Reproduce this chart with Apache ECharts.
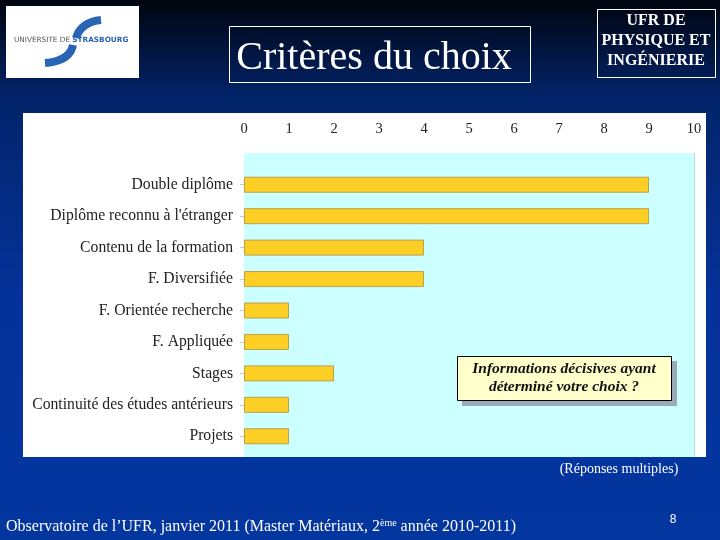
<!DOCTYPE html>
<html><head><meta charset="utf-8">
<script src="https://cdn.jsdelivr.net/npm/echarts@6/dist/echarts.min.js"></script>
<style>html,body{margin:0;padding:0;}#c{width:720px;height:540px;}</style>
</head><body><div id="c"></div>
<script>
const categories = ["Double diplôme","Diplôme reconnu à l'étranger","Contenu de la formation","F. Diversifiée","F. Orientée recherche","F. Appliquée","Stages","Continuité des études antérieurs","Projets"];
const values = [9,9,4,4,1,1,2,1,1];
const xTicks = [0,1,2,3,4,5,6,7,8,9,10];

const chart = echarts.init(document.getElementById('c'));
const serif = '"Liberation Serif","DejaVu Serif",serif';
chart.setOption({
  animation:false,
  backgroundColor:{type:'linear',x:0,y:0,x2:0,y2:1,colorStops:[
    {offset:0,color:'#00040f'},{offset:0.18,color:'#03246a'},{offset:0.55,color:'#05329a'},{offset:1,color:'#0436a0'}]},
  grid:[
    {left:244,right:26,top:153,bottom:83,show:true,backgroundColor:'#ccffff',borderWidth:0,z:1},
    {left:244,right:26,top:169,bottom:88,z:2}
  ],
  xAxis:[
    {gridIndex:0,type:'value',position:'top',min:0,max:10,interval:1,
     axisLabel:{fontFamily:serif,fontSize:14.5,color:'#222',margin:16,formatter:v=>String(xTicks[v])},
     axisLine:{show:false},axisTick:{show:false},
     splitLine:{show:true,lineStyle:{color:'#b5dede',width:1}}},
    {gridIndex:1,type:'value',min:0,max:10,show:false}
  ],
  yAxis:[
    {gridIndex:0,type:'value',show:false},
    {gridIndex:1,type:'category',inverse:true,data:categories,
     axisLabel:{fontFamily:serif,fontSize:15.7,color:'#222',margin:11},
     axisLine:{show:false},
     axisTick:{show:true,alignWithLabel:true,length:4,lineStyle:{color:'#c8c8c8'}}}
  ],
  series:[{type:'bar',xAxisIndex:1,yAxisIndex:1,data:values,barWidth:16,z:3,
    itemStyle:{color:'#fdcf24',borderColor:'#b9a24a',borderWidth:1}}],
  graphic:[
    {type:'rect',z:-10,shape:{x:23,y:113,width:683,height:344},style:{fill:'#ffffff'}},
    {type:'rect',z:-10,shape:{x:6,y:6,width:133,height:72},style:{fill:'#ffffff'}},
    {type:'bezierCurve',z:-9,shape:{x1:101,y1:20,cpx1:81,cpy1:22,x2:76,y2:38},style:{stroke:'#2a64b4',lineWidth:8,fill:null}},
    {type:'bezierCurve',z:-9,shape:{x1:73,y1:45,cpx1:70,cpy1:61,x2:45,y2:63},style:{stroke:'#2a64b4',lineWidth:8,fill:null}},
    {type:'text',z:-8,left:14,top:37,style:{text:'{g|UNIVERSITE DE }{b|STRASBOURG}',rich:{g:{fontFamily:'"DejaVu Sans",sans-serif',fontSize:7.3,fill:'#555'},b:{fontFamily:'"DejaVu Sans",sans-serif',fontSize:7.3,fill:'#2a64b4',fontWeight:'bold'}}}},
    {type:'rect',z:-10,shape:{x:229.5,y:26.5,width:301,height:56},style:{fill:null,stroke:'#ffffff',lineWidth:1}},
    {type:'text',z:-8,x:374,y:58,style:{text:'Critères du choix',fontFamily:serif,fontSize:40,fill:'#ffffff',textAlign:'center',textVerticalAlign:'middle'}},
    {type:'rect',z:-10,shape:{x:597.5,y:9.5,width:118,height:68},style:{fill:null,stroke:'#ffffff',lineWidth:1}},
    {type:'text',z:-8,x:656,y:41,style:{text:'UFR DE\nPHYSIQUE ET\nINGÉNIERIE',fontFamily:serif,fontSize:16,fontWeight:'bold',lineHeight:20,fill:'#ffffff',textAlign:'center',textVerticalAlign:'middle'}},
    {type:'rect',z:50,shape:{x:462,y:361,width:215,height:45},style:{fill:'#9aaab8'}},
    {type:'rect',z:51,shape:{x:457.5,y:356.5,width:214,height:44},style:{fill:'#ffffcc',stroke:'#000000',lineWidth:1}},
    {type:'text',z:52,x:564,y:378,style:{text:'Informations décisives ayant\ndéterminé votre choix ?',fontFamily:serif,fontSize:15.5,fontStyle:'italic',fontWeight:'bold',lineHeight:18,fill:'#111',textAlign:'center',textVerticalAlign:'middle'}},
    {type:'text',z:5,x:619,y:469,style:{text:'(Réponses multiples)',fontFamily:serif,fontSize:14,fill:'#ffffff',textAlign:'center',textVerticalAlign:'middle'}},
    {type:'text',z:5,x:6,y:527,style:{text:'{a|Observatoire de l’UFR, janvier 2011 (Master Matériaux, 2}{s|ème}{a| année 2010-2011)}',textVerticalAlign:'middle',
      rich:{a:{fontFamily:serif,fontSize:16,fill:'#ffffff'},s:{fontFamily:serif,fontSize:10,fill:'#ffffff',verticalAlign:'top',padding:[0,0,8,0]}}}},
    {type:'text',z:5,x:673,y:520,style:{text:'8',fontFamily:'"Liberation Sans",Arial,sans-serif',fontSize:12,fill:'#ffffff',textAlign:'center',textVerticalAlign:'middle'}}
  ]
});
</script></body></html>
